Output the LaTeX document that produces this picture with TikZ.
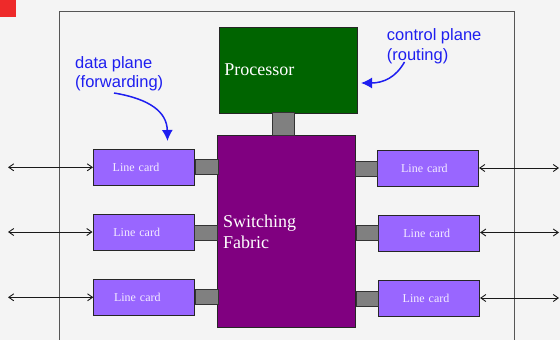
\documentclass[tikz,border=0pt]{standalone}
\usepackage{fontspec}
\setmainfont{Liberation Serif}
\newfontfamily\labelfont{Liberation Sans}
\usetikzlibrary{arrows.meta}
\definecolor{bg}{HTML}{F4F4F4}
\definecolor{redsq}{HTML}{EE2A2A}
\definecolor{procgreen}{HTML}{006400}
\definecolor{fabpurple}{HTML}{800080}
\definecolor{cardviolet}{HTML}{9966FF}
\definecolor{linkgray}{HTML}{808080}
\definecolor{framegray}{HTML}{555555}
\definecolor{noteblue}{HTML}{1E1EF0}
\definecolor{cardtext}{HTML}{F4ECFF}
\tikzset{
  box/.style={draw=black!85, line width=0.8pt, rectangle, inner sep=0pt, anchor=north west},
  cardbox/.style={box, fill=cardviolet, minimum width=101pt, minimum height=36pt,
    text=cardtext, font=\fontsize{12}{14}\selectfont, align=left, text width=101pt,
    execute at begin node={\hspace*{#1}}},
  cardbox/.default=20pt,
  linkbox/.style={draw=black!80, line width=0.8pt, fill=linkgray, rectangle, inner sep=0pt},
  bigbox/.style={box, text=white, font=\fontsize{18}{21}\selectfont, align=left,
    text width=127pt, inner xsep=5.5pt},
  note/.style={text=noteblue, font=\labelfont\fontsize{16.5}{19.5}\selectfont, align=left, inner sep=0pt},
  notearrow/.style={draw=noteblue, line width=1.5pt, -{Latex[length=11pt,width=11pt]}},
  ioarrow/.style={draw=black!90, line width=0.9pt, {Straight Barb[length=5pt,width=7pt]}-{Straight Barb[length=5pt,width=7pt]}}
}
\begin{document}
\begin{tikzpicture}[x=1pt,y=-1pt]
\useasboundingbox (0,0) rectangle (560,340);
\fill[bg] (0,0) rectangle (560,340);
\fill[redsq] (0,0) rectangle (16,17);
\draw[framegray, line width=0.9pt] (59.3,341) -- (59.3,11.7) -- (514.3,11.7) -- (514.3,341);

% processor and fabric
\node[bigbox, fill=procgreen, minimum height=86pt] (proc) at (218.5,26.7) {Processor};
\node[bigbox, fill=fabpurple, minimum height=192pt] (fab) at (217.3,135) {Switching\\Fabric};
\node[linkbox, minimum width=22pt, minimum height=23pt, anchor=north] (pf) at (283.7,112.2) {};

% line cards left
\node[cardbox=19.3pt] (l1) at (93,149.3) {Line card};
\node[cardbox=20.5pt] (l2) at (92.5,214) {Line card};
\node[cardbox=20.3pt] (l3) at (93.3,279.3) {Line card};
% line cards right
\node[cardbox=23.4pt] (r1) at (377.3,150) {Line card};
\node[cardbox=24.7pt] (r2) at (378.3,214.7) {Line card};
\node[cardbox=24pt] (r3) at (378.3,280.3) {Line card};

% links card - fabric
\node[linkbox, minimum width=23pt, minimum height=15pt, anchor=west] (lk1) at ([yshift=1pt]l1.east) {};
\node[linkbox, minimum width=23pt, minimum height=15pt, anchor=west] (lk2) at (l2.east) {};
\node[linkbox, minimum width=23pt, minimum height=15pt, anchor=west] (lk3) at ([yshift=0.5pt]l3.east) {};
\node[linkbox, minimum width=22pt, minimum height=15pt, anchor=east] (rk1) at (r1.west) {};
\node[linkbox, minimum width=22pt, minimum height=15pt, anchor=east] (rk2) at (r2.west) {};
\node[linkbox, minimum width=22pt, minimum height=15pt, anchor=east] (rk3) at ([yshift=-0.5pt]r3.west) {};

% external arrows
\coordinate (el1) at (8,167.3);
\coordinate (el2) at (8,232);
\coordinate (el3) at (8,297.3);
\coordinate (er1) at (559,168);
\coordinate (er2) at (559,232.5);
\coordinate (er3) at (559,298);
\draw[ioarrow] (el1) -- (el1 -| l1.west);
\draw[ioarrow] (el2) -- (el2 -| l2.west);
\draw[ioarrow] (el3) -- (el3 -| l3.west);
\draw[ioarrow] (er1 -| r1.east) -- (er1);
\draw[ioarrow] (er2 -| r2.east) -- (er2);
\draw[ioarrow] (er3 -| r3.east) -- (er3);

% notes (base anchor = baseline of the last line)
\node[note, anchor=base west] (dp) at (75,87.8) {data plane\\(forwarding)};
\node[note, anchor=base west] (cp) at (386.7,60.3) {control plane\\(routing)};
\coordinate (dps) at (114,93);
\coordinate (dpe) at (167.5,141);
\coordinate (cps) at (404.5,62);
\coordinate (cpe) at (361,83);
\draw[notearrow] (dps) .. controls (150,99) and (167,112) .. (dpe);
\draw[notearrow] (cps) .. controls (396,77) and (384,83) .. (cpe);
\end{tikzpicture}
\end{document}
